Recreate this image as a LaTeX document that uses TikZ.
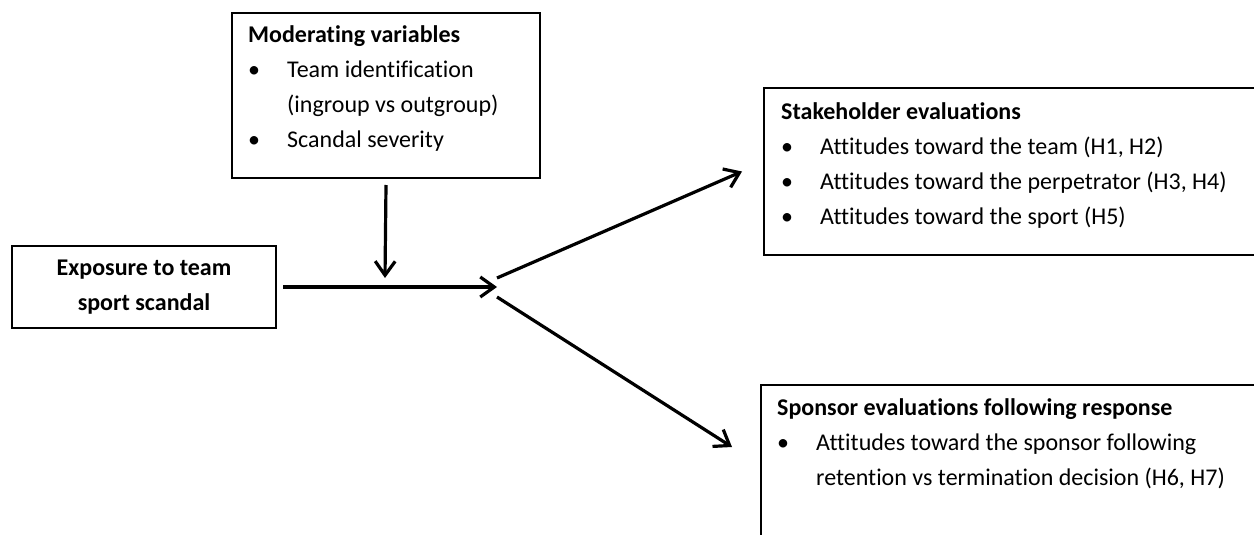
\documentclass[tikz,border=0pt]{standalone}
\usepackage{fontspec}
\setmainfont{Carlito}[Ligatures=NoCommon]
\usetikzlibrary{arrows.meta, positioning}

\newcommand{\bodyfont}{\fontsize{24}{35}\selectfont}

\begin{document}
\begin{tikzpicture}[
        x=1pt, y=1pt,
        box/.style={rectangle, draw=black, line width=2pt, anchor=north west, inner sep=0pt},
        listtext/.style={anchor=base west, inner sep=0pt, font=\bodyfont},
        link/.style={-{Straight Barb[length=14pt, width=20pt]}, line width=3.2pt}
    ]
    \useasboundingbox (0,0) rectangle (1254,-535);
    \clip (0,0) rectangle (1254,-535);

    % Moderating variables
    \node[box, minimum width=308pt, minimum height=165pt] (mod) at (231,-12) {};
    \node[listtext] (modtxt) at ([shift={(17pt,-31pt)}]mod.north west) {%
        \begin{tabular}[t]{@{}p{39pt}@{}l@{}}
        \multicolumn{2}{@{}l@{}}{\textbf{Moderating variables}}\\
        \textbullet & Team identification\\
                    & (ingroup vs outgroup)\\
        \textbullet & Scandal severity
        \end{tabular}};

    % Exposure
    \node[box, anchor=center, minimum width=264pt, minimum height=82pt,
          align=center, font=\bodyfont\bfseries] (expo) at (144,-287)
          {Exposure to team\\sport scandal};

    % Stakeholder evaluations
    \node[box, minimum width=520pt, minimum height=167pt] (stake) at (763,-87) {};
    \node[listtext] (staketxt) at ([shift={(18pt,-33pt)}]stake.north west) {%
        \begin{tabular}[t]{@{}p{39pt}@{}l@{}}
        \multicolumn{2}{@{}l@{}}{\textbf{Stakeholder evaluations}}\\
        \textbullet & Attitudes toward the team (H1, H2)\\
        \textbullet & Attitudes toward the perpetrator (H3, H4)\\
        \textbullet & Attitudes toward the sport (H5)
        \end{tabular}};

    % Sponsor evaluations
    \node[box, minimum width=520pt, minimum height=200pt] (spons) at (760,-384) {};
    \node[listtext] (sponstxt) at ([shift={(17pt,-31pt)}]spons.north west) {%
        \begin{tabular}[t]{@{}p{39pt}@{}l@{}}
        \multicolumn{2}{@{}l@{}}{\textbf{Sponsor evaluations following response}}\\
        \textbullet & Attitudes toward the sponsor following\\
                    & retention vs termination decision (H6, H7)
        \end{tabular}};

    % Arrows
    \coordinate (hub) at (497,-287);
    \coordinate (modin) at (385,-278);
    \coordinate (sponsin) at (732,-447);
    \draw[link] ([xshift=6pt]expo.east) -- (hub);
    \draw[link] ([yshift=-6pt]mod.south) -- (modin);
    \draw[link] ([yshift=9pt]hub) -- ([xshift=-21pt]stake.west);
    \draw[link] ([yshift=-10pt]hub) -- (sponsin);

\end{tikzpicture}
\end{document}
